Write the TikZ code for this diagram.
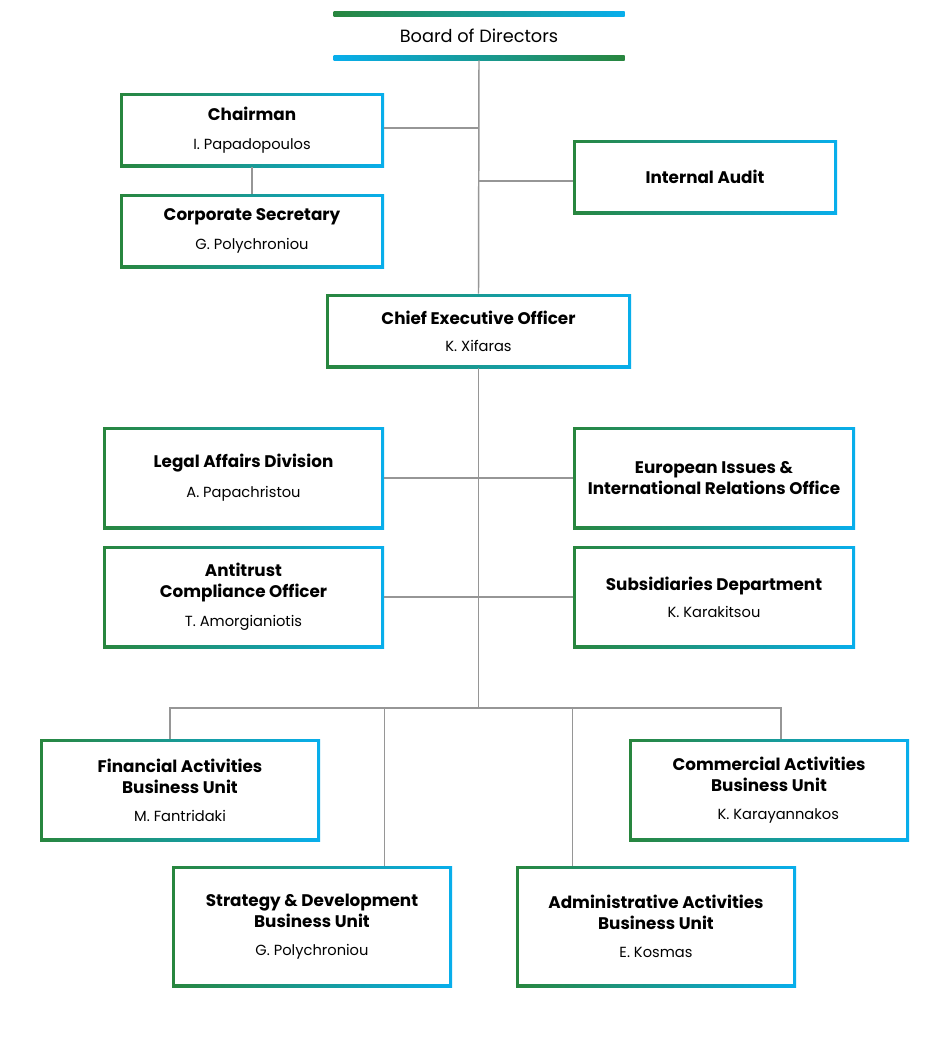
\documentclass[tikz,border=0pt]{standalone}
\usepackage{fontspec}
\setmainfont{Poppins}
\definecolor{bgreen}{RGB}{40,134,62}
\definecolor{bblue}{RGB}{8,174,236}
\definecolor{lgray}{RGB}{150,150,150}
\tikzset{
  gbox/.style={inner sep=0pt, align=center, font=\fontsize{11}{15.5}\selectfont,
    path picture={
      \shade[left color=bgreen,right color=bblue] (path picture bounding box.south west) rectangle (path picture bounding box.north east);
      \fill[white] ([xshift=2.2pt,yshift=2.2pt]path picture bounding box.south west) rectangle ([xshift=-2.2pt,yshift=-2.2pt]path picture bounding box.north east);
    }},
  header/.style={inner sep=0pt, align=center, font=\fontsize{13.3}{15.5}\selectfont,
    minimum width=291*0.75pt, minimum height=49*0.75pt,
    path picture={
      \shade[left color=bgreen,right color=bblue] ([yshift=-3.75pt]path picture bounding box.north west) rectangle (path picture bounding box.north east);
      \shade[left color=bblue,right color=bgreen] (path picture bounding box.south west) rectangle ([yshift=3.75pt]path picture bounding box.south east);
    }},
  conn/.style={draw=lgray, line width=1.1pt},
}
\newcommand\ti[1]{{\fontsize{12.6}{15.5}\selectfont\bfseries #1}}
\begin{document}
\begin{tikzpicture}[x=0.75pt,y=-0.75pt]
\useasboundingbox[fill=white] (0,0) rectangle (950,1040);
\node[header] (board) at (479,35.5) {Board of Directors};
\node[gbox, minimum width=264*0.75pt, minimum height=74*0.75pt] (chair) at (252,130) {\ti{Chairman}\\[6.25pt]I. Papadopoulos};
\node[gbox, minimum width=264*0.75pt, minimum height=74*0.75pt] (sec) at (252,231) {\ti{Corporate Secretary}\\[6.25pt]G. Polychroniou};
\node[gbox, minimum width=264*0.75pt, minimum height=74*0.75pt] (audit) at (705,177) {\ti{Internal Audit}};
\node[gbox, minimum width=305*0.75pt, minimum height=74*0.75pt] (ceo) at (478.5,331) {\ti{Chief Executive Officer}\\[4.75pt]K. Xifaras};
\node[gbox, minimum width=281*0.75pt, minimum height=102*0.75pt] (legal) at (243.5,478) {\ti{Legal Affairs Division}\\[7pt]A. Papachristou};
\node[gbox, minimum width=282*0.75pt, minimum height=102*0.75pt] (euro) at (714,478) {\ti{European Issues \&}\\\ti{International Relations Office}};
\node[gbox, minimum width=281*0.75pt, minimum height=102*0.75pt] (anti) at (243.5,597) {\ti{Antitrust}\\\ti{Compliance Officer}\\[6.25pt]T. Amorgianiotis};
\node[gbox, minimum width=282*0.75pt, minimum height=102*0.75pt] (subs) at (714,597) {\ti{Subsidiaries Department}\\[4.75pt]K. Karakitsou};
\node[gbox, minimum width=280*0.75pt, minimum height=102*0.75pt] (fin) at (180,790) {\ti{Financial Activities}\\\ti{Business Unit}\\[5.5pt]M. Fantridaki};
\node[gbox, minimum width=280*0.75pt, minimum height=102*0.75pt] (com) at (769,790) {\ti{Commercial Activities}\\\ti{Business Unit}\\[5.5pt]\hspace*{14pt}K. Karayannakos};
\node[gbox, minimum width=280*0.75pt, minimum height=121*0.75pt] (strat) at (312,926.5) {\ti{Strategy \& Development}\\\ti{Business Unit}\\[5.5pt]G. Polychroniou};
\node[gbox, minimum width=280*0.75pt, minimum height=121*0.75pt] (adm) at (656,926.5) {\ti{Administrative Activities}\\\ti{Business Unit}\\[5.5pt]E. Kosmas};
% connectors
\coordinate (busL) at (170,708);
\coordinate (busR) at (781,708);
\draw[conn] (board.south) -- (ceo.north);
\draw[conn] ([yshift=1.5pt]chair.east) -- ([yshift=1.5pt]chair.east -| board.south);
\draw[conn] (chair.south) -- (sec.north);
\draw[conn] ([yshift=-3pt]audit.west) -- ([yshift=-3pt]audit.west -| board.south);
\draw[conn] (ceo.south) -- (ceo.south |- busL);
\draw[conn] (legal.east) -- (euro.west);
\draw[conn] (anti.east) -- (subs.west);
\draw[conn] (busL |- fin.north) -- (busL) -- (busR) -- (busR |- com.north);
\draw[conn] (busL -| legal.east) -- (strat.north -| legal.east);
\draw[conn] (busL -| euro.west) -- (adm.north -| euro.west);
\end{tikzpicture}
\end{document}
